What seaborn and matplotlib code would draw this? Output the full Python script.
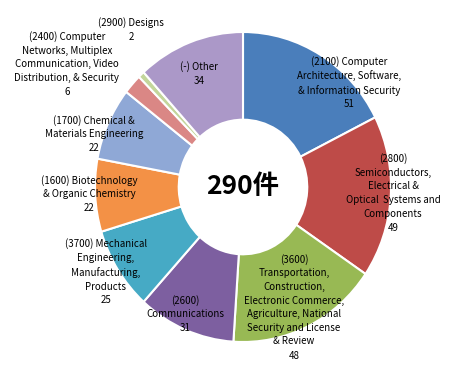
import matplotlib
matplotlib.use("Agg")
import matplotlib.pyplot as plt
import seaborn as sns

# categories (clockwise from the top) and counts
labels = [
    "(2100) Computer\nArchitecture, Software,\n& Information Security",
    "(2800)\nSemiconductors,\nElectrical &\nOptical  Systems and\nComponents",
    "(3600)\nTransportation,\nConstruction,\nElectronic Commerce,\nAgriculture, National\nSecurity and License\n& Review",
    "(2600)\nCommunications",
    "(3700) Mechanical\nEngineering,\nManufacturing,\nProducts",
    "(1600) Biotechnology\n& Organic Chemistry",
    "(1700) Chemical &\nMaterials Engineering",
    "(2400) Computer\nNetworks, Multiplex\nCommunication, Video\nDistribution, & Security",
    "(2900) Designs",
    "(-) Other",
]
counts = [51, 49, 48, 31, 25, 22, 22, 6, 2, 34]
center_text = "290件"

colors = ["#4A7EBB", "#BE4B48", "#98B954", "#7D5FA0", "#46AAC5",
          "#F39146", "#8FA8D6", "#DA8785", "#C3D69B", "#AB98C8"]

# label centres in pixels (from top-left)
label_pos = [(349, 83), (393, 193), (294, 307), (185, 314), (106, 272),
             (89, 194), (94, 134), (67, 64), (131, 30), (199, 74)]

W, H = 470, 372
cx, cy = 243, 187
rx, ry = 148, 155
line_h = 14  # px between label lines

sns.set_theme(style="white")
plt.rcParams["font.family"] = ["Noto Sans CJK KR", "DejaVu Sans"]

fig = plt.figure(figsize=(W / 100, H / 100), dpi=100)
ax = fig.add_axes([0, 0, 1, 1])
ax.pie(counts, colors=sns.color_palette(colors), startangle=90, counterclock=False,
       radius=1, wedgeprops=dict(width=1 - 66 / 152, edgecolor="white", linewidth=1.5))
ax.set_aspect("auto")
ax.set_xlim(-cx / rx, (W - cx) / rx)
ax.set_ylim(-(H - cy) / ry, cy / ry)
ax.axis("off")

# name block and count drawn separately, count one line below the name
for lab, n, (x, y) in zip(labels, counts, label_pos):
    k = lab.count("\n") + 1
    top = y - k * line_h / 2
    fig.text(x / W, 1 - (top + (k - 1) * line_h / 2) / H, lab, ha="center", va="center",
             fontsize=7, linespacing=1.45, color="black")
    fig.text(x / W, 1 - (top + k * line_h) / H, str(n), ha="center", va="center",
             fontsize=7, color="black")

fig.text(cx / W, 1 - cy / H, center_text, ha="center", va="center",
         fontsize=19, fontweight="bold", color="black")

fig.savefig("out.png", dpi=100, facecolor="white")
